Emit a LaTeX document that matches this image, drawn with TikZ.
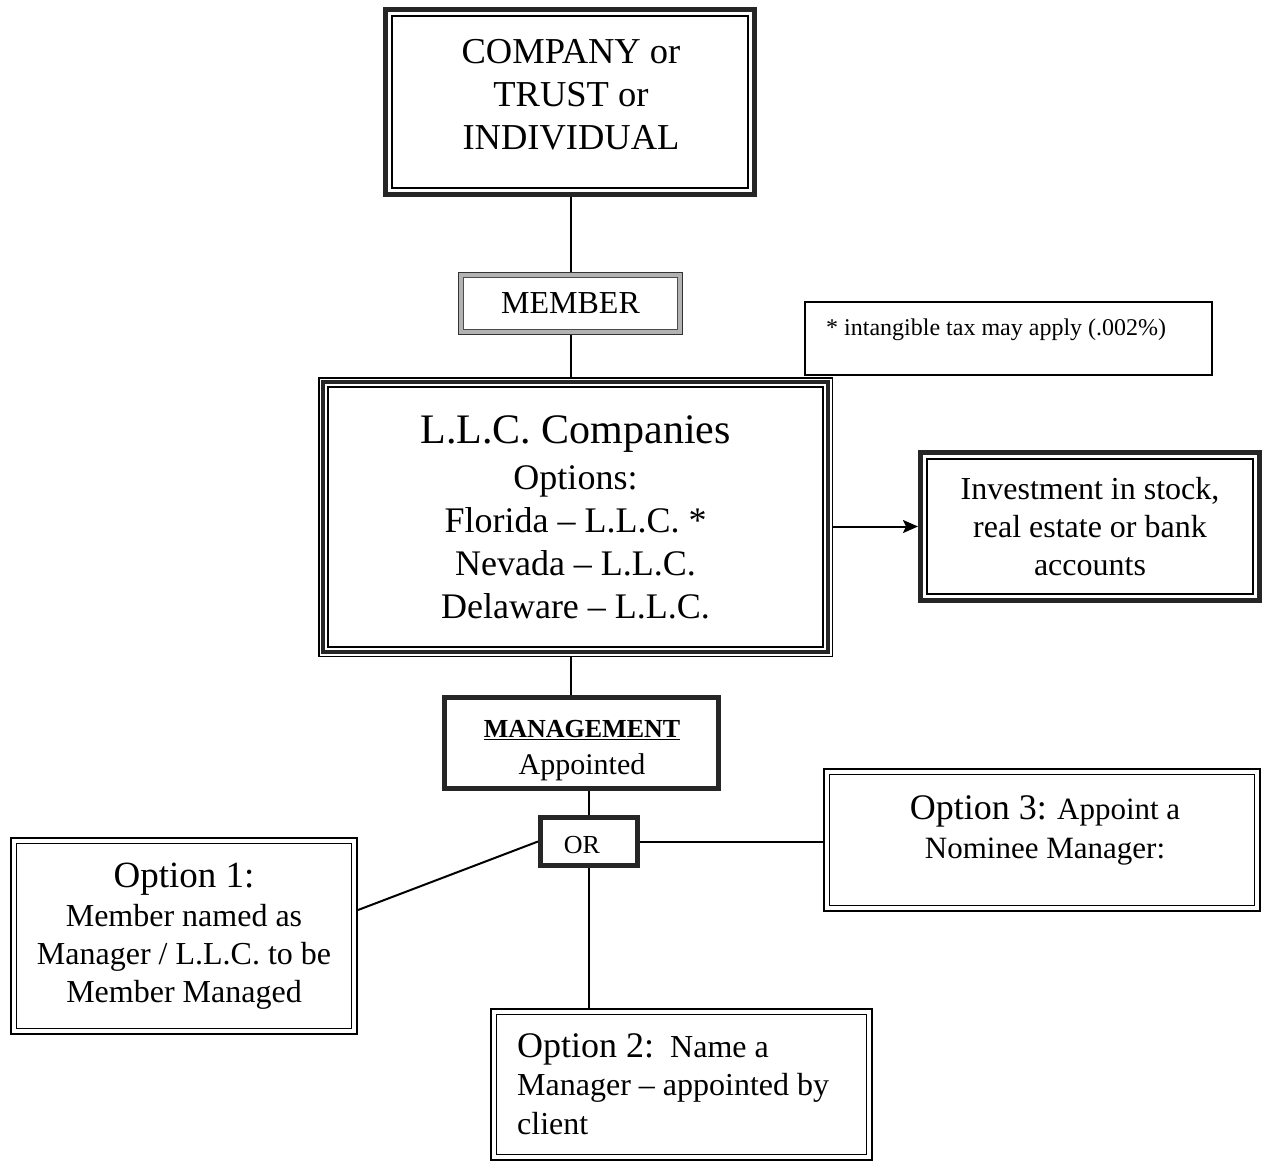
\documentclass[tikz,border=0pt]{standalone}
\usepackage{fontspec}
\setmainfont{Liberation Serif}
\usetikzlibrary{arrows.meta}
% font size helper: size and baseline skip
\newcommand\fsz[2]{\fontsize{#1}{#2}\selectfont}
% rectangle drawn a given distance inside a node's outline
\newcommand\frameat[3]{\draw[#3] ([shift={(#2pt,-#2pt)}]#1.north west) rectangle ([shift={(-#2pt,#2pt)}]#1.south east);}
\begin{document}
\begin{tikzpicture}[x=1pt,y=-1pt,
  box/.style={rectangle, inner sep=0pt, outer sep=0pt, align=center},
  txt/.style={inner sep=0pt, align=center},
  conn/.style={line width=2pt},
  band/.style={line width=5pt, draw=black!85},
  thinline/.style={line width=1.5pt},
  outerline/.style={line width=2pt},
]
\fill[white] (0,0) rectangle (1263,1165);
\useasboundingbox (0,0) rectangle (1263,1165);

% owner at the top
\node[box, minimum width=374pt, minimum height=190pt] (company) at (570,102) {};
\frameat{company}{2.5}{band}
\frameat{company}{9}{thinline}
\node[txt, font=\fsz{36.5}{43}] (companytext) at (571,95) {COMPANY or\\TRUST or\\INDIVIDUAL};

% member
\node[box, minimum width=225pt, minimum height=63pt, font=\fsz{32}{38}] (member) at (570.5,303.5) {MEMBER};
\frameat{member}{3}{line width=6pt, draw=gray!60}
\frameat{member}{0.5}{line width=1pt, draw=black!80}
\frameat{member}{5.5}{line width=1pt, draw=black!70}

% footnote box
\node[box, minimum width=407pt, minimum height=73pt, draw, line width=1.5pt] (note) at (1008.5,338.5) {};
\node[txt, anchor=west, font=\fsz{24}{28}] (notetext) at (826,330) {* intangible tax may apply (.002\%)};

% L.L.C. companies
\node[box, minimum width=515pt, minimum height=280pt, font=\fsz{36}{43}] (llc) at (575.5,517)
  {{\fsz{42}{48}L.L.C. Companies}\\[3pt]Options:\\Florida – L.L.C. *\\Nevada – L.L.C.\\Delaware – L.L.C.};
\frameat{llc}{0.75}{thinline}
\frameat{llc}{5}{line width=3.5pt, draw=black!85}
\frameat{llc}{10}{thinline}

% investment
\node[box, minimum width=344pt, minimum height=153pt, font=\fsz{32}{38}] (invest) at (1090,526.5)
  {Investment in stock,\\real estate or bank\\accounts};
\frameat{invest}{2.5}{band}
\frameat{invest}{9}{thinline}

% management
\node[box, minimum width=279pt, minimum height=96pt] (mgmt) at (581.5,743) {};
\frameat{mgmt}{2.5}{band}
\node[txt, font=\fsz{30}{37}] (mgmttext) at (582,751)
  {{\fsz{26}{30}\bfseries\underline{MANAGEMENT}}\\Appointed};

% or
\node[box, minimum width=102pt, minimum height=53pt] (orbox) at (589,841.5) {};
\frameat{orbox}{2.5}{band}
\node[txt, font=\fsz{26}{30}] (ortext) at (582,845) {OR};

% option 1
\node[box, minimum width=348pt, minimum height=198pt, font=\fsz{32}{38}] (opt1) at (184,936)
  {{\fsz{37}{44}Option 1:}\\[1pt]Member named as\\Manager / L.L.C. to be\\Member Managed};
\frameat{opt1}{1}{outerline}
\frameat{opt1}{6.5}{thinline}

% option 3
\node[box, minimum width=438pt, minimum height=144pt] (opt3) at (1042,840) {};
\frameat{opt3}{1}{outerline}
\frameat{opt3}{6.5}{thinline}
\node[txt, font=\fsz{31}{39}] (opt3text) at (1045,830)
  {{\fsz{36}{43}Option 3:} Appoint a\\Nominee Manager:};

% option 2
\node[box, minimum width=383pt, minimum height=153pt] (opt2) at (681.5,1084.5) {};
\frameat{opt2}{1}{outerline}
\frameat{opt2}{6.5}{thinline}
\node[txt, align=left, anchor=west, font=\fsz{32}{38.5}] (opt2text) at (517,1084)
  {{\fsz{36}{43}Option 2:}\ \ Name a\\Manager – appointed by\\client};

% connectors
\draw[conn] (member.north |- company.south) -- (member.north);
\draw[conn] (member.south) -- (member.south |- llc.north);
\draw[conn] (member.south |- llc.south) -- (member.south |- mgmt.north);
\draw[conn] (orbox.north |- mgmt.south) -- (orbox.north);
\draw[conn] (orbox.south) -- (orbox.south |- opt2.north);
\draw[conn] (orbox.east) -- (orbox.east -| opt3.west);
\coordinate (opt1hit) at ([yshift=26pt]opt1.east);
\draw[conn] (orbox.west) -- (opt1hit);
\draw[conn, -{Stealth[length=15pt,width=13pt,inset=3pt]}] (llc.east |- invest.west) -- (invest.west);
\end{tikzpicture}
\end{document}
